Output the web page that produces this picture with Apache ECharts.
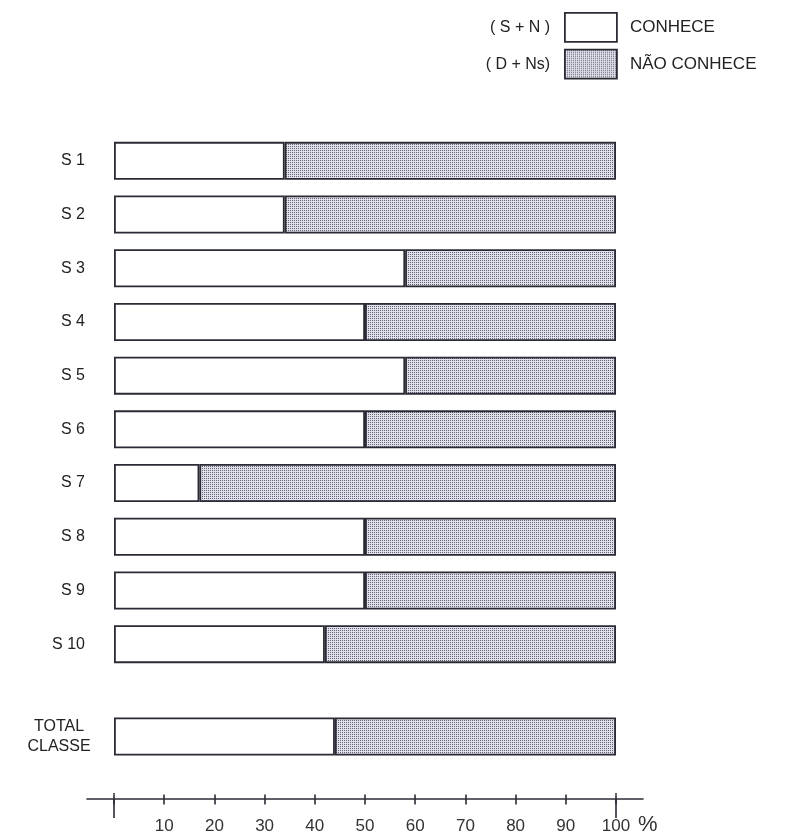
<!DOCTYPE html>
<html>
<head>
<meta charset="utf-8">
<script src="https://cdn.jsdelivr.net/npm/echarts@6/dist/echarts.min.js"></script>
<style>
  html, body { margin: 0; padding: 0; background: #ffffff; }
  #chart { width: 793px; height: 835px; }
</style>
</head>
<body>
<div id="chart"></div>
<script>
// ---- data ----
const categories = ['S 1', 'S 2', 'S 3', 'S 4', 'S 5', 'S 6', 'S 7', 'S 8', 'S 9', 'S 10'];
const conhece = [34, 34, 58, 50, 58, 50, 17, 50, 50, 42];
const naoConhece = [66, 66, 42, 50, 42, 50, 83, 50, 50, 58];
const totalCategory = ['TOTAL\nCLASSE'];
const totalConhece = [44];
const totalNaoConhece = [56];
const seriesNames = ['CONHECE', 'NÃO CONHECE'];
const legendPrefixes = ['( S + N )', '( D + Ns)'];
const axisUnit = '%';

// ---- styling ----
const ink = '#2b2b36';
const font = '"Liberation Sans", Arial, Helvetica, sans-serif';

function makePattern() {
  const c = document.createElement('canvas');
  c.width = 2; c.height = 2;
  const ctx = c.getContext('2d');
  ctx.fillStyle = '#e0e0e8';
  ctx.fillRect(0, 0, 2, 2);
  ctx.fillStyle = '#62627a';
  ctx.fillRect(0, 0, 1, 1);
  return { image: c, repeat: 'repeat' };
}
const dotted = makePattern();

const whiteStyle = { color: '#ffffff', borderColor: ink, borderWidth: 1.8 };
const dotStyle = { color: dotted, borderColor: ink, borderWidth: 1.8 };
const hiddenStyle = { color: 'rgba(0,0,0,0)', borderColor: 'rgba(0,0,0,0)', borderWidth: 1.8 };
const endTickColors = [ink, 'transparent', 'transparent', 'transparent', 'transparent',
  'transparent', 'transparent', 'transparent', 'transparent', 'transparent'];

const chart = echarts.init(document.getElementById('chart'), null, { renderer: 'canvas' });

const option = {
  backgroundColor: '#ffffff',
  animation: false,
  legend: [
    {
      orient: 'vertical', left: 559, top: 7,
      icon: 'rect', itemWidth: 52, itemHeight: 29, itemGap: 6, align: 'left',
      selectedMode: false,
      textStyle: { color: '#222', fontSize: 17, fontFamily: font, padding: [0, 0, 0, 8] },
      data: [
        { name: seriesNames[0], itemStyle: whiteStyle },
        { name: seriesNames[1], itemStyle: dotStyle }
      ]
    },
    {
      orient: 'vertical', right: 172, top: 7,
      icon: 'rect', itemWidth: 52, itemHeight: 29, itemGap: 6, align: 'right',
      selectedMode: false,
      formatter: function (n) { return legendPrefixes[seriesNames.indexOf(n)]; },
      textStyle: { color: '#222', fontSize: 16, fontFamily: font, padding: [0, 8, 0, 0] },
      data: [
        { name: seriesNames[0], itemStyle: hiddenStyle },
        { name: seriesNames[1], itemStyle: hiddenStyle }
      ]
    }
  ],
  grid: [
    { left: 114, width: 502, top: 134, height: 537 },
    { left: 114, width: 502, top: 710, height: 53 },
    { left: 87, width: 556, top: 790, height: 9 },
    { left: 114, width: 502, top: 793, height: 6 },
    { left: 114, width: 502, top: 799, height: 19 }
  ],
  xAxis: [
    { gridIndex: 0, type: 'value', min: 0, max: 100, show: false },
    { gridIndex: 1, type: 'value', min: 0, max: 100, show: false },
    { gridIndex: 2, type: 'value', min: 0, max: 100,
      axisLine: { show: true, lineStyle: { color: ink, width: 1.6 } },
      axisTick: { show: false }, axisLabel: { show: false }, splitLine: { show: false } },
    { gridIndex: 3, type: 'value', min: 0, max: 100, interval: 10, position: 'bottom',
      axisLine: { show: false },
      axisTick: { show: true, length: 10, lineStyle: { color: ink, width: 1.6 } },
      splitLine: { show: true, lineStyle: { color: endTickColors, width: 1.6 } },
      axisLabel: { show: true, margin: 23, color: '#333', fontSize: 17, fontFamily: font,
        formatter: function (v) { return v === 0 ? '' : String(v); } },
      name: axisUnit, nameLocation: 'end', nameGap: 22,
      nameTextStyle: { color: '#333', fontSize: 22, fontFamily: font, verticalAlign: 'top', padding: [19, 0, 0, 0] }
    },
    { gridIndex: 4, type: 'value', min: 0, max: 100, interval: 10,
      axisLine: { show: false }, axisTick: { show: false }, axisLabel: { show: false },
      splitLine: { show: true, lineStyle: { color: endTickColors, width: 1.6 } } }
  ],
  yAxis: [
    { gridIndex: 0, type: 'category', data: categories, inverse: true,
      axisLine: { show: false }, axisTick: { show: false }, splitLine: { show: false },
      axisLabel: { color: '#222', fontSize: 16, fontFamily: font, margin: 29, align: 'right' } },
    { gridIndex: 1, type: 'category', data: totalCategory, inverse: true,
      axisLine: { show: false }, axisTick: { show: false }, splitLine: { show: false },
      axisLabel: { color: '#222', fontSize: 16, fontFamily: font, margin: 55, align: 'center', lineHeight: 20 } },
    { gridIndex: 2, type: 'value', show: false },
    { gridIndex: 3, type: 'value', show: false },
    { gridIndex: 4, type: 'value', show: false }
  ],
  series: [
    { name: seriesNames[0], type: 'bar', stack: 'a', xAxisIndex: 0, yAxisIndex: 0,
      data: conhece, barWidth: 38, itemStyle: whiteStyle, silent: true },
    { name: seriesNames[1], type: 'bar', stack: 'a', xAxisIndex: 0, yAxisIndex: 0,
      data: naoConhece, barWidth: 38, itemStyle: dotStyle, silent: true },
    { name: seriesNames[0], type: 'bar', stack: 'b', xAxisIndex: 1, yAxisIndex: 1,
      data: totalConhece, barWidth: 38, itemStyle: whiteStyle, silent: true },
    { name: seriesNames[1], type: 'bar', stack: 'b', xAxisIndex: 1, yAxisIndex: 1,
      data: totalNaoConhece, barWidth: 38, itemStyle: dotStyle, silent: true }
  ]
};
chart.setOption(option);
</script>
</body>
</html>
